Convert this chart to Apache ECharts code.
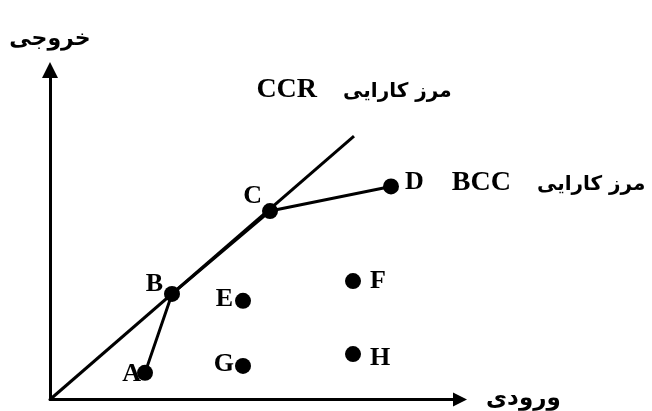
<!DOCTYPE html>
<html>
<head>
<meta charset="utf-8">
<script src="https://cdn.jsdelivr.net/npm/echarts@6/dist/echarts.min.js"></script>
<style>
  html, body { margin: 0; padding: 0; background: #fff; }
  #chart { width: 652px; height: 411px; }
</style>
</head>
<body>
<div id="chart"></div>
<script>
  // داده‌ها (ورودی ، خروجی)
  var pointNames = ['A', 'B', 'C', 'D', 'E', 'F', 'G', 'H'];
  var pointX = [9.5, 12.2, 22.0, 34.1, 19.3, 30.3, 19.3, 30.3];
  var pointY = [2.7, 10.7, 19.1, 21.6, 10.0, 12.0, 3.4, 4.6];

  // مرز کارایی BCC : A - B - C - D
  var bccNames = ['A', 'B', 'C', 'D'];
  // مرز کارایی CCR : خط از مبدا
  var ccrX = [0, 30.4];
  var ccrY = [0, 26.7];

  var xName = 'ورودی';
  var yName = 'خروجی';
  var frontierText = 'مرز کارایی';

  var latinFont = '"Liberation Serif", "Times New Roman", serif';
  var faFont = '"DejaVu Sans", sans-serif';

  // جای برچسب نقطه‌ها
  var labelPlace = {
    A: { position: 'left', distance: -4, offset: [0, 1] },
    B: { position: 'left', distance: 1, offset: [0, -10] },
    C: { position: 'left', distance: 0, offset: [0, -15] },
    D: { position: 'right', distance: 6, offset: [0, -4] },
    E: { position: 'left', distance: 2, offset: [0, -2] },
    F: { position: 'right', distance: 9, offset: [0, 0] },
    G: { position: 'left', distance: 1, offset: [0, -2] },
    H: { position: 'right', distance: 9, offset: [0, 4] }
  };

  var points = pointNames.map(function (n, i) {
    var p = labelPlace[n];
    var item = {
      name: n,
      value: [pointX[i], pointY[i]],
      label: {
        show: true,
        position: p.position,
        distance: p.distance,
        offset: p.offset,
        formatter: n
      }
    };
    if (n === 'D') {
      item.label.formatter = '{d|D}{b|BCC}{f|' + frontierText + '}';
      item.label.rich = {
        d: { fontFamily: latinFont, fontWeight: 'bold', fontSize: 26, color: '#000' },
        b: { fontFamily: latinFont, fontWeight: 'bold', fontSize: 28, color: '#000', padding: [0, 0, 0, 28] },
        f: { fontFamily: faFont, fontWeight: 'bold', fontSize: 20, color: '#000', padding: [4, 0, 0, 26] }
      };
    }
    return item;
  });

  var bccLine = bccNames.map(function (n) {
    var i = pointNames.indexOf(n);
    return [pointX[i], pointY[i]];
  });
  var ccrLine = ccrX.map(function (x, i) { return [x, ccrY[i]]; });

  var myChart = echarts.init(document.getElementById('chart'));
  myChart.setOption({
    animation: false,
    backgroundColor: '#fff',
    grid: { left: 50, right: 192, top: 70, bottom: 7 },
    xAxis: {
      type: 'value',
      min: 0,
      max: 41,
      name: xName,
      nameLocation: 'end',
      nameGap: 26,
      nameTextStyle: { fontFamily: faFont, fontWeight: 'bold', fontSize: 23, color: '#000', padding: [0, 0, 12, 0] },
      axisLine: {
        show: true,
        symbol: ['none', 'triangle'],
        symbolSize: [14, 14],
        lineStyle: { color: '#000', width: 3 }
      },
      axisTick: { show: false },
      axisLabel: { show: false },
      splitLine: { show: false }
    },
    yAxis: {
      type: 'value',
      min: 0,
      max: 33.4,
      name: yName,
      nameLocation: 'end',
      nameGap: 20,
      nameTextStyle: { fontFamily: faFont, fontWeight: 'bold', fontSize: 22, color: '#000' },
      axisLine: {
        show: true,
        symbol: ['none', 'triangle'],
        symbolSize: [16, 16],
        lineStyle: { color: '#000', width: 3 }
      },
      axisTick: { show: false },
      axisLabel: { show: false },
      splitLine: { show: false }
    },
    series: [
      {
        name: 'CCR',
        type: 'line',
        data: ccrLine,
        symbol: 'none',
        lineStyle: { color: '#000', width: 3 },
        markPoint: {
          symbol: 'circle',
          symbolSize: 1,
          itemStyle: { color: 'rgba(0,0,0,0)' },
          data: [{
            coord: ccrLine[ccrLine.length - 1],
            label: {
              show: true,
              position: 'top',
              distance: 32,
              formatter: '{b|CCR}{f|' + frontierText + '}',
              rich: {
                b: { fontFamily: latinFont, fontWeight: 'bold', fontSize: 28, color: '#000' },
                f: { fontFamily: faFont, fontWeight: 'bold', fontSize: 20, color: '#000', padding: [4, 0, 0, 26] }
              }
            }
          }]
        }
      },
      {
        name: 'BCC',
        type: 'line',
        data: bccLine,
        symbol: 'none',
        lineStyle: { color: '#000', width: 3 }
      },
      {
        name: 'DMU',
        type: 'scatter',
        data: points,
        symbol: 'circle',
        symbolSize: 16,
        itemStyle: { color: '#000', opacity: 1 },
        label: {
          fontFamily: latinFont,
          fontWeight: 'bold',
          fontSize: 26,
          color: '#000'
        },
        z: 5
      }
    ]
  });
</script>
</body>
</html>
